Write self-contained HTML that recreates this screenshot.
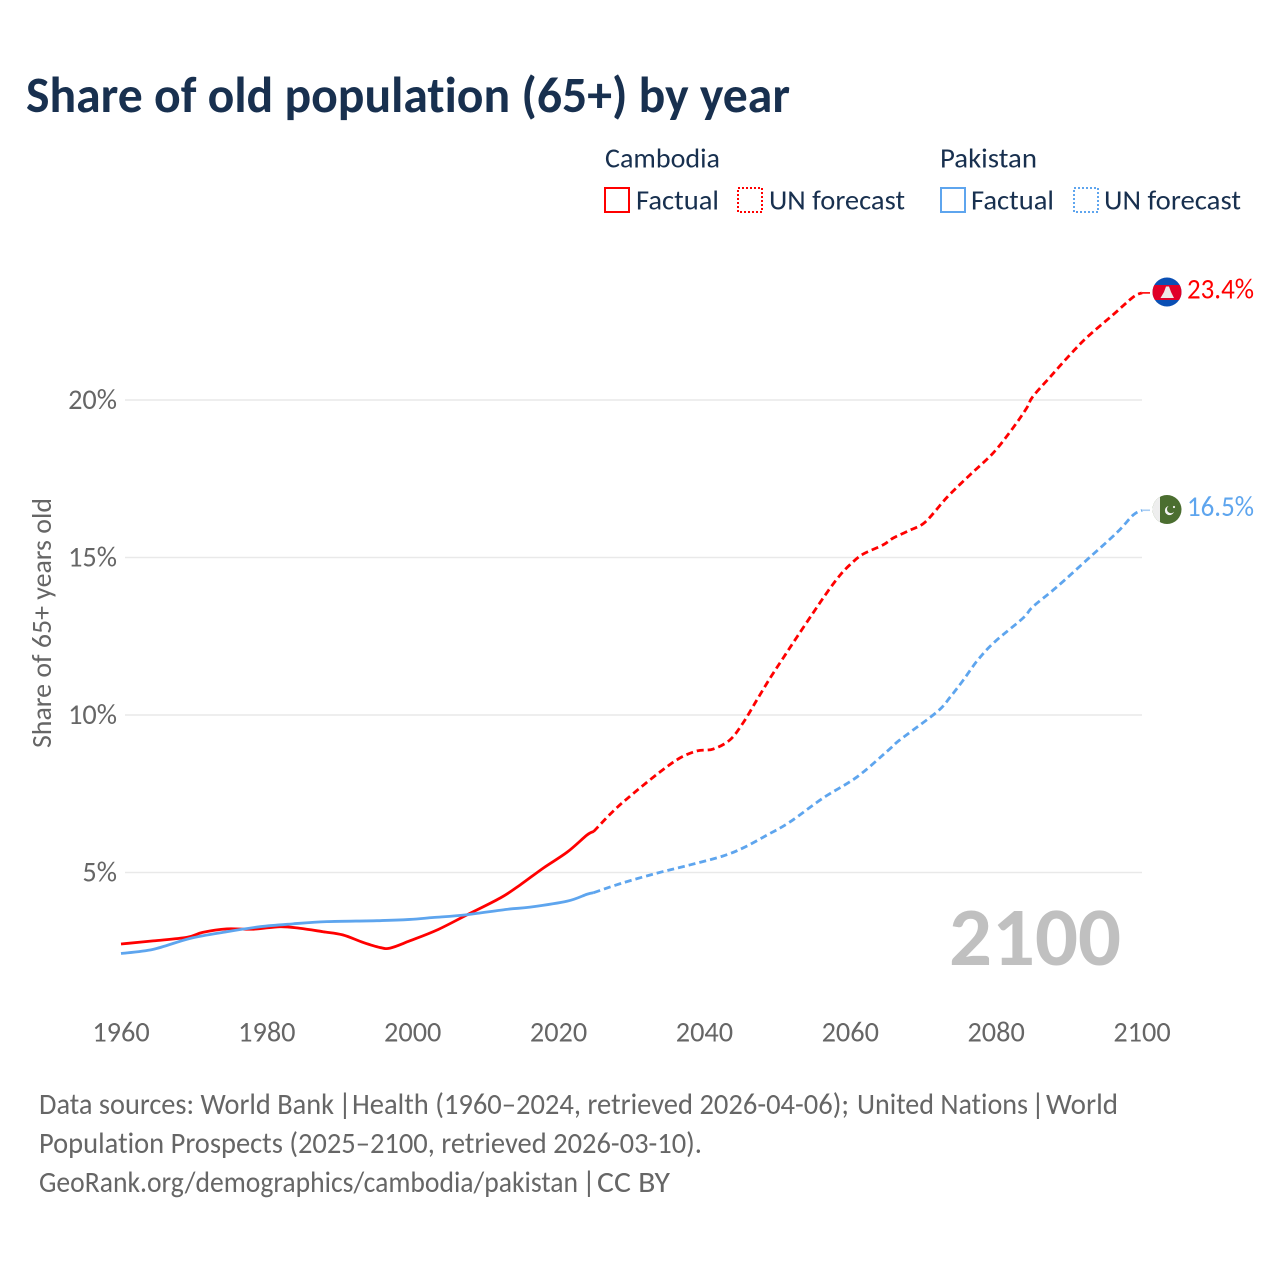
<!DOCTYPE html>
<html lang="en">
<head>
<meta charset="utf-8">
<title>Share of old population (65+) by year</title>
<style>
html,body{margin:0;padding:0;background:#fff;width:1280px;height:1280px;overflow:hidden}
svg{display:block}
text{font-family:Carlito,Lato,"Liberation Sans",sans-serif;font-variant-ligatures:none}
</style>
</head>
<body>
<svg id="chart" xmlns="http://www.w3.org/2000/svg" width="1280" height="1280" viewBox="0 0 1280 1280">
<defs>
<clipPath id="flag-clip-kh"><circle cx="1167" cy="292" r="14.5"/></clipPath>
<clipPath id="flag-clip-pk"><circle cx="1167" cy="509.5" r="14.5"/></clipPath>
</defs>
<rect width="1280" height="1280" fill="#fff"/>
<text x="26" y="112" font-size="51" font-weight="700" fill="#18304f" textLength="764" lengthAdjust="spacingAndGlyphs">Share of old population (65+) by year</text>

<g>
<text x="605" y="167.5" font-size="28" fill="#18304f" textLength="115" lengthAdjust="spacingAndGlyphs">Cambodia</text>
<rect x="605" y="188" width="24" height="24" fill="none" stroke="#ff0000" stroke-width="2"/>
<text x="636" y="209.5" font-size="28" fill="#18304f" textLength="83" lengthAdjust="spacingAndGlyphs">Factual</text>
<rect x="738" y="188" width="24" height="24" fill="none" stroke="#ff0000" stroke-width="2" stroke-dasharray="2 2"/>
<text x="769" y="209.5" font-size="28" fill="#18304f" textLength="136" lengthAdjust="spacingAndGlyphs">UN forecast</text>
<text x="940" y="167.5" font-size="28" fill="#18304f" textLength="97" lengthAdjust="spacingAndGlyphs">Pakistan</text>
<rect x="941" y="188" width="24" height="24" fill="none" stroke="#5ea5ee" stroke-width="2"/>
<text x="971" y="209.5" font-size="28" fill="#18304f" textLength="83" lengthAdjust="spacingAndGlyphs">Factual</text>
<rect x="1074" y="188" width="24" height="24" fill="none" stroke="#5ea5ee" stroke-width="2" stroke-dasharray="2 2"/>
<text x="1104" y="209.5" font-size="28" fill="#18304f" textLength="137" lengthAdjust="spacingAndGlyphs">UN forecast</text>
</g>

<g id="grid"></g>
<g id="yticks"></g>
<g id="xticks"></g>
<text transform="translate(51,623) rotate(-90)" text-anchor="middle" font-size="27.5" fill="#666" textLength="250" lengthAdjust="spacingAndGlyphs">Share of 65+ years old</text>
<text x="949" y="965" font-size="83" font-weight="700" fill="#c0c0c0" textLength="172" lengthAdjust="spacingAndGlyphs">2100</text>
<g id="series"></g>

<g clip-path="url(#flag-clip-kh)">
<rect x="1152" y="277" width="30" height="30" fill="#0a4fb4"/>
<rect x="1152" y="285" width="30" height="15" fill="#e00028"/>
<polygon points="1160.5,298 1174,298 1171,292 1169,286.5 1166,286.5 1164,292" fill="#eee8e8"/>
</g>
<g clip-path="url(#flag-clip-pk)">
<rect x="1152" y="495" width="30" height="30" fill="#4b6e30"/>
<rect x="1152" y="495" width="8" height="30" fill="#eeeeee"/>
<circle cx="1169.5" cy="510.5" r="4.6" fill="#f2f2f2"/>
<circle cx="1171" cy="509.2" r="4" fill="#4b6e30"/>
<circle cx="1174" cy="507" r="1.1" fill="#f2f2f2"/>
</g>
<text x="1187" y="298.5" font-size="28.5" fill="#ff0000" textLength="67" lengthAdjust="spacingAndGlyphs">23.4%</text>
<text x="1187" y="516" font-size="28.5" fill="#5ea5ee" textLength="67" lengthAdjust="spacingAndGlyphs">16.5%</text>

<g font-size="30" fill="#666">
<text y="1114"><tspan x="39" textLength="295" lengthAdjust="spacingAndGlyphs">Data sources: World Bank</tspan><tspan x="338">|</tspan><tspan x="352" textLength="497" lengthAdjust="spacingAndGlyphs">Health (1960–2024, retrieved 2026-04-06);</tspan><tspan x="857" textLength="171" lengthAdjust="spacingAndGlyphs">United Nations</tspan><tspan x="1031">|</tspan><tspan x="1046" textLength="72" lengthAdjust="spacingAndGlyphs">World</tspan></text>
<text x="39" y="1153" textLength="663" lengthAdjust="spacingAndGlyphs">Population Prospects (2025–2100, retrieved 2026-03-10).</text>
<text y="1192"><tspan x="39" textLength="539" lengthAdjust="spacingAndGlyphs">GeoRank.org/demographics/cambodia/pakistan</tspan><tspan x="582">|</tspan><tspan x="597" textLength="73" lengthAdjust="spacingAndGlyphs">CC BY</tspan></text>
</g>
</svg>
<script>
const xTickYears = [1960, 1980, 2000, 2020, 2040, 2060, 2080, 2100];
const yTickValues = [5, 10, 15, 20];

const cambodiaFactualYears = [1960, 1964.4, 1969, 1971.2, 1974.5, 1978.1, 1981.8, 1984.5, 1987.7, 1990.4, 1993.2, 1995.5, 1996.9, 1999.6, 2003.3, 2007.4, 2012, 2014.7, 2017.9, 2021.2, 2023.9, 2024.8];
const cambodiaFactualValues = [2.73, 2.83, 2.94, 3.1, 3.21, 3.2, 3.28, 3.23, 3.12, 3.02, 2.78, 2.62, 2.6, 2.83, 3.17, 3.65, 4.19, 4.6, 5.14, 5.65, 6.19, 6.3];
const cambodiaForecastYears = [2024.8, 2027.5, 2030.2, 2033.9, 2036.6, 2039, 2041.2, 2043.5, 2045.3, 2047.2, 2049, 2050.8, 2052.7, 2054.9, 2056.9, 2058.6, 2060, 2061.7, 2064.5, 2065.9, 2068.2, 2070.3, 2073.3, 2076.4, 2079.6, 2082.3, 2084.2, 2085, 2087.4, 2090.1, 2092.5, 2096, 2098.8, 2100];
const cambodiaForecastValues = [6.3, 6.95, 7.5, 8.19, 8.63, 8.86, 8.92, 9.21, 9.75, 10.48, 11.17, 11.81, 12.48, 13.24, 13.92, 14.44, 14.78, 15.1, 15.4, 15.62, 15.87, 16.13, 16.92, 17.62, 18.32, 19.11, 19.75, 20.1, 20.73, 21.43, 22, 22.7, 23.27, 23.4];

const pakistanFactualYears = [1960, 1964.4, 1969.5, 1974.5, 1979.1, 1983.6, 1988.2, 1995.1, 1999.6, 2002.8, 2007.4, 2012.9, 2016.1, 2021.2, 2023.9, 2024.8];
const pakistanFactualValues = [2.43, 2.56, 2.91, 3.12, 3.28, 3.37, 3.44, 3.47, 3.51, 3.57, 3.66, 3.83, 3.9, 4.09, 4.31, 4.36];
const pakistanForecastYears = [2024.8, 2028.8, 2033.5, 2038, 2042.5, 2045.3, 2048.6, 2051.7, 2056.3, 2060.9, 2065.4, 2066.8, 2071.9, 2073.7, 2075.5, 2077.5, 2079.8, 2083.7, 2085, 2088.3, 2092.9, 2096.6, 2098.8, 2100];
const pakistanForecastValues = [4.36, 4.67, 4.98, 5.24, 5.52, 5.78, 6.19, 6.6, 7.37, 8.03, 8.92, 9.21, 10.1, 10.57, 11.11, 11.75, 12.32, 13.08, 13.43, 14.06, 15.02, 15.8, 16.35, 16.5];

const NS = 'http://www.w3.org/2000/svg';
function xScale(year) { return 121 + (year - 1960) * (1142 - 121) / 140; }
function yScale(value) { return 1030 - value * 31.5; }

function smoothPath(years, values) {
  const p = years.map(function (yr, i) { return [xScale(yr), yScale(values[i])]; });
  let d = 'M' + p[0][0].toFixed(2) + ' ' + p[0][1].toFixed(2);
  for (let i = 0; i < p.length - 1; i++) {
    const a = p[Math.max(i - 1, 0)], b = p[i], c = p[i + 1], e = p[Math.min(i + 2, p.length - 1)];
    const c1x = b[0] + (c[0] - a[0]) / 6, c1y = b[1] + (c[1] - a[1]) / 6;
    const c2x = c[0] - (e[0] - b[0]) / 6, c2y = c[1] - (e[1] - b[1]) / 6;
    d += 'C' + c1x.toFixed(2) + ' ' + c1y.toFixed(2) + ' ' + c2x.toFixed(2) + ' ' + c2y.toFixed(2) + ' ' + c[0].toFixed(2) + ' ' + c[1].toFixed(2);
  }
  return d;
}

const grid = document.getElementById('grid');
const yticks = document.getElementById('yticks');
yTickValues.forEach(function (v) {
  const line = document.createElementNS(NS, 'line');
  line.setAttribute('x1', 125);
  line.setAttribute('x2', 1142);
  line.setAttribute('y1', yScale(v));
  line.setAttribute('y2', yScale(v));
  line.setAttribute('stroke', '#e9e9e9');
  line.setAttribute('stroke-width', '1.4');
  
  
  grid.appendChild(line);
  const t = document.createElementNS(NS, 'text');
  t.setAttribute('x', 117);
  t.setAttribute('y', yScale(v) + 9);
  t.setAttribute('text-anchor', 'end');
  t.setAttribute('font-size', '28.3');
  t.setAttribute('fill', '#666');
  t.textContent = v + '%';
  
  
  yticks.appendChild(t);
});

const xticks = document.getElementById('xticks');
xTickYears.forEach(function (yr) {
  const t = document.createElementNS(NS, 'text');
  t.setAttribute('x', xScale(yr));
  t.setAttribute('y', 1041.5);
  t.setAttribute('text-anchor', 'middle');
  t.setAttribute('font-size', '28.3');
  t.setAttribute('fill', '#666');
  t.textContent = String(yr);
  
  
  xticks.appendChild(t);
});

const seriesGroup = document.getElementById('series');
function drawLine(years, values, color, dashed) {
  const path = document.createElementNS(NS, 'path');
  path.setAttribute('d', smoothPath(years, values));
  path.setAttribute('fill', 'none');
  path.setAttribute('stroke', color);
  path.setAttribute('stroke-width', '2.8');
  path.setAttribute('stroke-linejoin', 'round');
  if (dashed) path.setAttribute('stroke-dasharray', '7 4');
  seriesGroup.appendChild(path);
  return path;
}
function drawConnector(years, values, color) {
  const last = values[values.length - 1];
  const lastYear = years[years.length - 1];
  const line = document.createElementNS(NS, 'line');
  line.setAttribute('x1', xScale(lastYear));
  line.setAttribute('x2', xScale(lastYear) + 8);
  line.setAttribute('y1', yScale(last));
  line.setAttribute('y2', yScale(last));
  line.setAttribute('stroke', color);
  line.setAttribute('stroke-width', '1.6');
  seriesGroup.appendChild(line);
  return line;
}

const l1 = drawLine(cambodiaForecastYears, cambodiaForecastValues, '#ff0000', true);


const l2 = drawLine(cambodiaFactualYears, cambodiaFactualValues, '#ff0000', false);


const l3 = drawLine(pakistanForecastYears, pakistanForecastValues, '#5ea5ee', true);


const l4 = drawLine(pakistanFactualYears, pakistanFactualValues, '#5ea5ee', false);


const c1 = drawConnector(cambodiaForecastYears, cambodiaForecastValues, '#ff0000');


const c2 = drawConnector(pakistanForecastYears, pakistanForecastValues, '#a9cdf3');


</script>
</body>
</html>
